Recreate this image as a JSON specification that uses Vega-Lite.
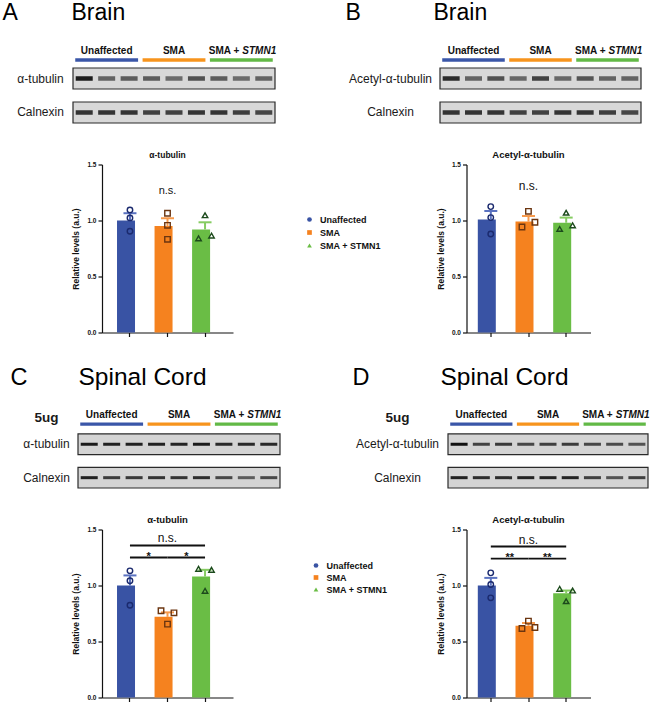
{
"$schema":"https://vega.github.io/schema/vega-lite/v6.json",
"padding":{"left":2,"top":1,"right":0,"bottom":0},
"bounds":"flush",
"columns":2,
"align":"each",
"spacing":{"row":41.5,"column":186.5},
"resolve":{"scale":{"color":"independent","shape":"independent","fill":"independent","stroke":"independent","x":"independent","y":"independent"}},
"config":{"view":{"stroke":null},"font":"Liberation Sans","axis":{"labelFont":"Liberation Sans","titleFont":"Liberation Sans"},"title":{"font":"Liberation Sans"},"legend":{"labelFont":"Liberation Sans"},"text":{"font":"Liberation Sans"}},
"datasets":{
"hdrLines":[{"row":"hdr","group":"Unaffected","lane":0.6,"lane2":3.4},{"row":"hdr","group":"SMA","lane":3.6,"lane2":6.4},{"row":"hdr","group":"SMA + STMN1","lane":6.6,"lane2":9.4}],
"hdrText":[{"row":"hdr","lane":2,"t":"Unaffected"},{"row":"hdr","lane":5,"t":"SMA"}],
"hdrText2":[{"row":"hdr","lane":8,"t":"SMA +"}],
"hdrText3":[{"row":"hdr","lane":8,"t":"STMN1"}],
"boxA":[{"row":"α-tubulin","lane":0.5,"lane2":9.5},{"row":"Calnexin","lane":0.5,"lane2":9.5}],
"boxB":[{"row":"Acetyl-α-tubulin","lane":0.5,"lane2":9.5},{"row":"Calnexin","lane":0.5,"lane2":9.5}],
"bandsA":[{"row":"α-tubulin","lane":1,"v":1.0},{"row":"α-tubulin","lane":2,"v":0.62},{"row":"α-tubulin","lane":3,"v":0.66},{"row":"α-tubulin","lane":4,"v":0.66},{"row":"α-tubulin","lane":5,"v":0.58},{"row":"α-tubulin","lane":6,"v":0.72},{"row":"α-tubulin","lane":7,"v":0.66},{"row":"α-tubulin","lane":8,"v":0.58},{"row":"α-tubulin","lane":9,"v":0.62},
{"row":"Calnexin","lane":1,"v":0.88},{"row":"Calnexin","lane":2,"v":0.88},{"row":"Calnexin","lane":3,"v":0.88},{"row":"Calnexin","lane":4,"v":0.8},{"row":"Calnexin","lane":5,"v":0.8},{"row":"Calnexin","lane":6,"v":0.88},{"row":"Calnexin","lane":7,"v":0.88},{"row":"Calnexin","lane":8,"v":0.82},{"row":"Calnexin","lane":9,"v":0.78}],
"bandsB":[{"row":"Acetyl-α-tubulin","lane":1,"v":0.92},{"row":"Acetyl-α-tubulin","lane":2,"v":0.62},{"row":"Acetyl-α-tubulin","lane":3,"v":0.72},{"row":"Acetyl-α-tubulin","lane":4,"v":0.6},{"row":"Acetyl-α-tubulin","lane":5,"v":0.8},{"row":"Acetyl-α-tubulin","lane":6,"v":0.6},{"row":"Acetyl-α-tubulin","lane":7,"v":0.7},{"row":"Acetyl-α-tubulin","lane":8,"v":0.62},{"row":"Acetyl-α-tubulin","lane":9,"v":0.62},
{"row":"Calnexin","lane":1,"v":0.88},{"row":"Calnexin","lane":2,"v":0.88},{"row":"Calnexin","lane":3,"v":0.88},{"row":"Calnexin","lane":4,"v":0.8},{"row":"Calnexin","lane":5,"v":0.8},{"row":"Calnexin","lane":6,"v":0.88},{"row":"Calnexin","lane":7,"v":0.88},{"row":"Calnexin","lane":8,"v":0.82},{"row":"Calnexin","lane":9,"v":0.78}],
"bandsC":[{"row":"α-tubulin","lane":1,"v":0.95},{"row":"α-tubulin","lane":2,"v":0.92},{"row":"α-tubulin","lane":3,"v":0.92},{"row":"α-tubulin","lane":4,"v":0.92},{"row":"α-tubulin","lane":5,"v":0.9},{"row":"α-tubulin","lane":6,"v":0.95},{"row":"α-tubulin","lane":7,"v":0.88},{"row":"α-tubulin","lane":8,"v":0.88},{"row":"α-tubulin","lane":9,"v":0.88},
{"row":"Calnexin","lane":1,"v":0.92},{"row":"Calnexin","lane":2,"v":0.78},{"row":"Calnexin","lane":3,"v":0.8},{"row":"Calnexin","lane":4,"v":0.82},{"row":"Calnexin","lane":5,"v":0.82},{"row":"Calnexin","lane":6,"v":0.85},{"row":"Calnexin","lane":7,"v":0.72},{"row":"Calnexin","lane":8,"v":0.62},{"row":"Calnexin","lane":9,"v":0.72}],
"bandsD":[{"row":"Acetyl-α-tubulin","lane":1,"v":1.0},{"row":"Acetyl-α-tubulin","lane":2,"v":0.75},{"row":"Acetyl-α-tubulin","lane":3,"v":0.8},{"row":"Acetyl-α-tubulin","lane":4,"v":0.72},{"row":"Acetyl-α-tubulin","lane":5,"v":0.76},{"row":"Acetyl-α-tubulin","lane":6,"v":0.78},{"row":"Acetyl-α-tubulin","lane":7,"v":0.72},{"row":"Acetyl-α-tubulin","lane":8,"v":0.7},{"row":"Acetyl-α-tubulin","lane":9,"v":0.66},
{"row":"Calnexin","lane":1,"v":0.92},{"row":"Calnexin","lane":2,"v":0.86},{"row":"Calnexin","lane":3,"v":0.86},{"row":"Calnexin","lane":4,"v":0.9},{"row":"Calnexin","lane":5,"v":0.9},{"row":"Calnexin","lane":6,"v":0.9},{"row":"Calnexin","lane":7,"v":0.76},{"row":"Calnexin","lane":8,"v":0.66},{"row":"Calnexin","lane":9,"v":0.76}],
"barsA":[{"group":"Unaffected","v":1.0,"hi":1.065},{"group":"SMA","v":0.95,"hi":1.02},{"group":"SMA + STMN1","v":0.92,"hi":0.984}],
"barsB":[{"group":"Unaffected","v":1.01,"hi":1.085},{"group":"SMA","v":0.99,"hi":1.04},{"group":"SMA + STMN1","v":0.98,"hi":1.026}],
"barsC":[{"group":"Unaffected","v":1.0,"hi":1.09},{"group":"SMA","v":0.72,"hi":0.76},{"group":"SMA + STMN1","v":1.08,"hi":1.14}],
"barsD":[{"group":"Unaffected","v":1.0,"hi":1.068},{"group":"SMA","v":0.64,"hi":0.665},{"group":"SMA + STMN1","v":0.93,"hi":0.955}],
"ptsA":[{"group":"Unaffected","pos":"C","v":1.094},{"group":"Unaffected","pos":"C","v":1.023},{"group":"Unaffected","pos":"C","v":0.904},{"group":"SMA","pos":"C","v":1.065},{"group":"SMA","pos":"C","v":0.957},{"group":"SMA","pos":"C","v":0.832},{"group":"SMA + STMN1","pos":"C","v":1.047},{"group":"SMA + STMN1","pos":"L","v":0.841},{"group":"SMA + STMN1","pos":"R","v":0.865}],
"ptsB":[{"group":"Unaffected","pos":"C","v":1.124},{"group":"Unaffected","pos":"C","v":1.026},{"group":"Unaffected","pos":"C","v":0.88},{"group":"SMA","pos":"C","v":1.082},{"group":"SMA","pos":"R","v":0.984},{"group":"SMA","pos":"L","v":0.942},{"group":"SMA + STMN1","pos":"C","v":1.07},{"group":"SMA + STMN1","pos":"R","v":0.957},{"group":"SMA + STMN1","pos":"L","v":0.925}],
"ptsC":[{"group":"Unaffected","pos":"C","v":1.131},{"group":"Unaffected","pos":"C","v":1.042},{"group":"Unaffected","pos":"C","v":0.824},{"group":"SMA","pos":"L","v":0.774},{"group":"SMA","pos":"R","v":0.756},{"group":"SMA","pos":"C","v":0.655},{"group":"SMA + STMN1","pos":"L","v":1.149},{"group":"SMA + STMN1","pos":"R","v":1.14},{"group":"SMA + STMN1","pos":"C","v":0.952}],
"ptsD":[{"group":"Unaffected","pos":"C","v":1.113},{"group":"Unaffected","pos":"C","v":1.009},{"group":"Unaffected","pos":"C","v":0.89},{"group":"SMA","pos":"C","v":0.682},{"group":"SMA","pos":"R","v":0.625},{"group":"SMA","pos":"L","v":0.616},{"group":"SMA + STMN1","pos":"L","v":0.97},{"group":"SMA + STMN1","pos":"R","v":0.955},{"group":"SMA + STMN1","pos":"C","v":0.86}],
"nsA":[{"group":"SMA","v":1.26,"t":"n.s."}],
"nsB":[{"group":"SMA","v":1.31,"t":"n.s."}],
"nsC":[{"group":"SMA","v":1.424,"t":"n.s."}],
"nsD":[{"group":"SMA","v":1.41,"t":"n.s."}],
"brC":[{"from":"Unaffected","to":"SMA + STMN1","v":1.357},{"from":"Unaffected","to":"SMA","v":1.25},{"from":"SMA","to":"SMA + STMN1","v":1.25}],
"brD":[{"from":"Unaffected","to":"SMA + STMN1","v":1.348},{"from":"Unaffected","to":"SMA","v":1.24},{"from":"SMA","to":"SMA + STMN1","v":1.24}],
"stC":[{"group":"Unaffected","v":1.25,"t":"*"},{"group":"SMA","v":1.25,"t":"*"}],
"stD":[{"group":"Unaffected","v":1.24,"t":"**"},{"group":"SMA","v":1.24,"t":"**"}]
},
"concat":[
{
 "width":173,"height":89,
 "encoding":{
  "x":{"field":"lane","type":"quantitative","scale":{"domain":[0.5,9.5],"range":[-29,173],"nice":false,"zero":false},
   "axis":{"orient":"top","labels":false,"ticks":false,"domain":false,"grid":false,"title":"Brain","titleX":-31,"titleY":-15,"titleAlign":"left","titleBaseline":"alphabetic","titleAngle":0,"titleFontSize":23,"titleFontWeight":"normal","titleColor":"#000"}},
  "y":{"field":"row","type":"nominal","scale":{"domain":["hdr","α-tubulin","Calnexin"],"paddingInner":0.382,"paddingOuter":0},
   "axis":{"title":"A","titleX":-100,"titleY":-15,"titleAlign":"left","titleBaseline":"alphabetic","titleAngle":0,"titleFontSize":23,"titleFontWeight":"normal","titleColor":"#000","ticks":false,"tickSize":0,"domain":false,"grid":false,"labelExpr":"datum.value === 'hdr' ? '' : datum.value","labelAlign":"center","labelPadding":62,"labelFontSize":12,"labelColor":"#1a1a1a","labelBaseline":"middle"}}
 },
 "layer":[
  {"data":{"name":"boxA"},"mark":{"type":"rect","fill":"#d8d8d8","stroke":"#2a2a2a","strokeWidth":1.2},"encoding":{"x2":{"field":"lane2"}}},
  {"data":{"name":"bandsA"},"mark":{"type":"tick","orient":"horizontal","size":17,"thickness":4.5,"color":"#1c1c1c"},"encoding":{"opacity":{"field":"v","type":"quantitative","scale":null}}},
  {"data":{"name":"hdrLines"},"mark":{"type":"rule","strokeWidth":3.3,"yOffset":15.5},"encoding":{"x2":{"field":"lane2"},"color":{"field":"group","type":"nominal","scale":{"domain":["Unaffected","SMA","SMA + STMN1"],"range":["#3a56a8","#f7941d","#62b946"]},"legend":null}}},
  {"data":{"name":"hdrText"},"mark":{"type":"text","fontSize":10,"fontWeight":"bold","dy":6,"color":"#111"},"encoding":{"text":{"field":"t"}}},
  {"data":{"name":"hdrText2"},"mark":{"type":"text","fontSize":10,"fontWeight":"bold","dy":6,"align":"right","dx":-2,"color":"#111"},"encoding":{"text":{"field":"t"}}},
  {"data":{"name":"hdrText3"},"mark":{"type":"text","fontSize":10,"fontWeight":"bold","fontStyle":"italic","dy":6,"align":"left","dx":1,"color":"#111"},"encoding":{"text":{"field":"t"}}}
 ]
},
{
 "width":174.5,"height":89,
 "encoding":{
  "x":{"field":"lane","type":"quantitative","scale":{"domain":[0.5,9.5],"range":[-26.5,174.5],"nice":false,"zero":false},
   "axis":{"orient":"top","labels":false,"ticks":false,"domain":false,"grid":false,"title":"Brain","titleX":-33.5,"titleY":-15,"titleAlign":"left","titleBaseline":"alphabetic","titleAngle":0,"titleFontSize":23,"titleFontWeight":"normal","titleColor":"#000"}},
  "y":{"field":"row","type":"nominal","scale":{"domain":["hdr","Acetyl-α-tubulin","Calnexin"],"paddingInner":0.382,"paddingOuter":0},
   "axis":{"title":"B","titleX":-121.5,"titleY":-15,"titleAlign":"left","titleBaseline":"alphabetic","titleAngle":0,"titleFontSize":23,"titleFontWeight":"normal","titleColor":"#000","ticks":false,"tickSize":0,"domain":false,"grid":false,"labelExpr":"datum.value === 'hdr' ? '' : datum.value","labelAlign":"center","labelPadding":76.5,"labelFontSize":12,"labelColor":"#1a1a1a","labelBaseline":"middle"}}
 },
 "layer":[
  {"data":{"name":"boxB"},"mark":{"type":"rect","fill":"#d8d8d8","stroke":"#2a2a2a","strokeWidth":1.2},"encoding":{"x2":{"field":"lane2"}}},
  {"data":{"name":"bandsB"},"mark":{"type":"tick","orient":"horizontal","size":17,"thickness":4.5,"color":"#1c1c1c"},"encoding":{"opacity":{"field":"v","type":"quantitative","scale":null}}},
  {"data":{"name":"hdrLines"},"mark":{"type":"rule","strokeWidth":3.3,"yOffset":15.5},"encoding":{"x2":{"field":"lane2"},"color":{"field":"group","type":"nominal","scale":{"domain":["Unaffected","SMA","SMA + STMN1"],"range":["#3a56a8","#f7941d","#62b946"]},"legend":null}}},
  {"data":{"name":"hdrText"},"mark":{"type":"text","fontSize":10,"fontWeight":"bold","dy":6,"color":"#111"},"encoding":{"text":{"field":"t"}}},
  {"data":{"name":"hdrText2"},"mark":{"type":"text","fontSize":10,"fontWeight":"bold","dy":6,"align":"right","dx":-2,"color":"#111"},"encoding":{"text":{"field":"t"}}},
  {"data":{"name":"hdrText3"},"mark":{"type":"text","fontSize":10,"fontWeight":"bold","fontStyle":"italic","dy":6,"align":"left","dx":1,"color":"#111"},"encoding":{"text":{"field":"t"}}}
 ]
},
{
 "width":131,"height":168,
 "title":{"text":"α-tubulin","fontSize":8.5,"fontWeight":"bold","offset":2,"color":"#111"},
 "encoding":{
  "x":{"field":"group","type":"nominal","scale":{"domain":["Unaffected","SMA","SMA + STMN1"],"paddingInner":0.31,"paddingOuter":0.4},"axis":{"labels":false,"title":null,"tickSize":4,"tickColor":"#111","tickWidth":1.2,"domainColor":"#111","domainWidth":1.2,"grid":false}},
  "y":{"field":"v","type":"quantitative","scale":{"domain":[0,1.5],"nice":false},"axis":{"values":[0,0.5,1,1.5],"format":".1f","title":"Relative levels (a.u.)","titleFontSize":8.5,"titleFontWeight":"bold","titleColor":"#111","titlePadding":6,"labelFontSize":6.5,"labelFontWeight":"bold","labelColor":"#111","labelPadding":2,"tickSize":4,"tickColor":"#111","tickWidth":1.2,"domainColor":"#111","domainWidth":1.2,"grid":false}}
 },
 "layer":[
  {"data":{"name":"barsA"},"mark":"bar","encoding":{"color":{"field":"group","type":"nominal","scale":{"domain":["Unaffected","SMA","SMA + STMN1"],"range":["#3953a4","#f5821f","#6abd45"]},"legend":{"orient":"none","legendX":203,"legendY":50.5,"title":null,"labelFontSize":9,"labelFontWeight":"bold","labelColor":"#111","symbolSize":22,"symbolStrokeWidth":0,"rowPadding":3,"labelOffset":6,"padding":0,"direction":"vertical"}}}},
  {"data":{"name":"barsA"},"mark":{"type":"bar","width":2},"encoding":{"y2":{"field":"hi"},"fill":{"field":"group","type":"nominal","scale":{"domain":["Unaffected","SMA","SMA + STMN1"],"range":["#5a72c0","#f79a4c","#86cc62"]},"legend":null}}},
  {"data":{"name":"barsA"},"mark":{"type":"tick","orient":"horizontal","size":13,"thickness":2,"opacity":1},"encoding":{"y":{"field":"hi","type":"quantitative","title":"Relative levels (a.u.)"},"fill":{"field":"group","type":"nominal","scale":{"domain":["Unaffected","SMA","SMA + STMN1"],"range":["#5a72c0","#f79a4c","#86cc62"]},"legend":null}}},
  {"data":{"name":"ptsA"},"mark":{"type":"point","filled":false,"size":30,"strokeWidth":1.4,"opacity":1},"encoding":{"xOffset":{"field":"pos","type":"nominal","scale":{"domain":["L","C","R"],"paddingOuter":2.6}},"shape":{"field":"group","type":"nominal","scale":{"domain":["Unaffected","SMA","SMA + STMN1"],"range":["circle","square","triangle-up"]},"legend":{"orient":"none","legendX":203,"legendY":50.5,"title":null,"labelFontSize":9,"labelFontWeight":"bold","labelColor":"#111","symbolSize":22,"symbolStrokeWidth":0,"rowPadding":3,"labelOffset":6,"padding":0,"direction":"vertical"}},"stroke":{"field":"group","type":"nominal","scale":{"domain":["Unaffected","SMA","SMA + STMN1"],"range":["#1b2a6e","#6b3510","#1c4a1c"]},"legend":null}}},
  {"data":{"name":"nsA"},"mark":{"type":"text","fontSize":11,"baseline":"middle","color":"#111"},"encoding":{"text":{"field":"t"}}}
 ]
},
{
 "width":124,"height":168,
 "title":{"text":"Acetyl-α-tubulin","fontSize":9.5,"fontWeight":"bold","offset":2,"color":"#111"},
 "encoding":{
  "x":{"field":"group","type":"nominal","scale":{"domain":["Unaffected","SMA","SMA + STMN1"],"paddingInner":0.31,"paddingOuter":0.3},"axis":{"labels":false,"title":null,"tickSize":4,"tickColor":"#111","tickWidth":1.2,"domainColor":"#111","domainWidth":1.2,"grid":false}},
  "y":{"field":"v","type":"quantitative","scale":{"domain":[0,1.5],"nice":false},"axis":{"values":[0,0.5,1,1.5],"format":".1f","title":"Relative levels (a.u.)","titleFontSize":8.5,"titleFontWeight":"bold","titleColor":"#111","titlePadding":6,"labelFontSize":6.5,"labelFontWeight":"bold","labelColor":"#111","labelPadding":2,"tickSize":4,"tickColor":"#111","tickWidth":1.2,"domainColor":"#111","domainWidth":1.2,"grid":false}}
 },
 "layer":[
  {"data":{"name":"barsB"},"mark":"bar","encoding":{"color":{"field":"group","type":"nominal","scale":{"domain":["Unaffected","SMA","SMA + STMN1"],"range":["#3953a4","#f5821f","#6abd45"]},"legend":null}}},
  {"data":{"name":"barsB"},"mark":{"type":"bar","width":2},"encoding":{"y2":{"field":"hi"},"fill":{"field":"group","type":"nominal","scale":{"domain":["Unaffected","SMA","SMA + STMN1"],"range":["#5a72c0","#f79a4c","#86cc62"]},"legend":null}}},
  {"data":{"name":"barsB"},"mark":{"type":"tick","orient":"horizontal","size":13,"thickness":2,"opacity":1},"encoding":{"y":{"field":"hi","type":"quantitative","title":"Relative levels (a.u.)"},"fill":{"field":"group","type":"nominal","scale":{"domain":["Unaffected","SMA","SMA + STMN1"],"range":["#5a72c0","#f79a4c","#86cc62"]},"legend":null}}},
  {"data":{"name":"ptsB"},"mark":{"type":"point","filled":false,"size":30,"strokeWidth":1.4,"opacity":1},"encoding":{"xOffset":{"field":"pos","type":"nominal","scale":{"domain":["L","C","R"],"paddingOuter":2.6}},"shape":{"field":"group","type":"nominal","scale":{"domain":["Unaffected","SMA","SMA + STMN1"],"range":["circle","square","triangle-up"]},"legend":null},"stroke":{"field":"group","type":"nominal","scale":{"domain":["Unaffected","SMA","SMA + STMN1"],"range":["#1b2a6e","#6b3510","#1c4a1c"]},"legend":null}}},
  {"data":{"name":"nsB"},"mark":{"type":"text","fontSize":12,"baseline":"middle","color":"#111"},"encoding":{"text":{"field":"t"}}}
 ]
},
{
 "width":178,"height":114,
 "encoding":{
  "x":{"field":"lane","type":"quantitative","scale":{"domain":[0.5,9.5],"range":[-24,178],"nice":false,"zero":false},
   "axis":{"orient":"top","labels":false,"ticks":false,"domain":false,"grid":false,"title":"Spinal Cord","titleX":-24,"titleY":10,"titleAlign":"left","titleBaseline":"alphabetic","titleAngle":0,"titleFontSize":24.5,"titleFontWeight":"normal","titleColor":"#000"}},
  "y":{"field":"row","type":"nominal","scale":{"domain":["hdr","α-tubulin","Calnexin"],"range":[26.5,114],"paddingInner":0.382,"paddingOuter":0},
   "axis":{"title":"C","titleX":-92,"titleY":10,"titleAlign":"left","titleBaseline":"alphabetic","titleAngle":0,"titleFontSize":23.5,"titleFontWeight":"normal","titleColor":"#000","ticks":false,"tickSize":0,"domain":false,"grid":false,"labelExpr":"datum.value === 'hdr' ? '5ug' : datum.value","labelAlign":"center","labelPadding":56,"labelFontSize":{"condition":{"test":"datum.value === 'hdr'","value":13.5},"value":12},"labelFontWeight":{"condition":{"test":"datum.value === 'hdr'","value":"bold"},"value":"normal"},"labelBaseline":{"condition":{"test":"datum.value === 'hdr'","value":"top"},"value":"middle"},"labelColor":"#1a1a1a"}}
 },
 "layer":[
  {"data":{"name":"boxA"},"mark":{"type":"rect","fill":"#d4d4d4","stroke":"#2a2a2a","strokeWidth":1.2},"encoding":{"x2":{"field":"lane2"}}},
  {"data":{"name":"bandsC"},"mark":{"type":"tick","orient":"horizontal","size":17,"thickness":3,"color":"#111"},"encoding":{"opacity":{"field":"v","type":"quantitative","scale":null}}},
  {"data":{"name":"hdrLines"},"mark":{"type":"rule","strokeWidth":3.3,"yOffset":13.2},"encoding":{"x2":{"field":"lane2"},"color":{"field":"group","type":"nominal","scale":{"domain":["Unaffected","SMA","SMA + STMN1"],"range":["#3a56a8","#f7941d","#62b946"]},"legend":null}}},
  {"data":{"name":"hdrText"},"mark":{"type":"text","fontSize":10,"fontWeight":"bold","dy":4.2,"color":"#111"},"encoding":{"text":{"field":"t"}}},
  {"data":{"name":"hdrText2"},"mark":{"type":"text","fontSize":10,"fontWeight":"bold","dy":4.2,"align":"right","dx":-2,"color":"#111"},"encoding":{"text":{"field":"t"}}},
  {"data":{"name":"hdrText3"},"mark":{"type":"text","fontSize":10,"fontWeight":"bold","fontStyle":"italic","dy":4.2,"align":"left","dx":1,"color":"#111"},"encoding":{"text":{"field":"t"}}}
 ]
},
{
 "width":181.5,"height":114,
 "encoding":{
  "x":{"field":"lane","type":"quantitative","scale":{"domain":[0.5,9.5],"range":[-18.5,181.5],"nice":false,"zero":false},
   "axis":{"orient":"top","labels":false,"ticks":false,"domain":false,"grid":false,"title":"Spinal Cord","titleX":-26.5,"titleY":10,"titleAlign":"left","titleBaseline":"alphabetic","titleAngle":0,"titleFontSize":24.5,"titleFontWeight":"normal","titleColor":"#000"}},
  "y":{"field":"row","type":"nominal","scale":{"domain":["hdr","Acetyl-α-tubulin","Calnexin"],"range":[26.5,114],"paddingInner":0.382,"paddingOuter":0},
   "axis":{"title":"D","titleX":-114.5,"titleY":10,"titleAlign":"left","titleBaseline":"alphabetic","titleAngle":0,"titleFontSize":23.5,"titleFontWeight":"normal","titleColor":"#000","ticks":false,"tickSize":0,"domain":false,"grid":false,"labelExpr":"datum.value === 'hdr' ? '5ug' : datum.value","labelAlign":"center","labelPadding":69.5,"labelFontSize":{"condition":{"test":"datum.value === 'hdr'","value":13.5},"value":12},"labelFontWeight":{"condition":{"test":"datum.value === 'hdr'","value":"bold"},"value":"normal"},"labelBaseline":{"condition":{"test":"datum.value === 'hdr'","value":"top"},"value":"middle"},"labelColor":"#1a1a1a"}}
 },
 "layer":[
  {"data":{"name":"boxB"},"mark":{"type":"rect","fill":"#d4d4d4","stroke":"#2a2a2a","strokeWidth":1.2},"encoding":{"x2":{"field":"lane2"}}},
  {"data":{"name":"bandsD"},"mark":{"type":"tick","orient":"horizontal","size":17,"thickness":3,"color":"#111"},"encoding":{"opacity":{"field":"v","type":"quantitative","scale":null}}},
  {"data":{"name":"hdrLines"},"mark":{"type":"rule","strokeWidth":3.3,"yOffset":13.2},"encoding":{"x2":{"field":"lane2"},"color":{"field":"group","type":"nominal","scale":{"domain":["Unaffected","SMA","SMA + STMN1"],"range":["#3a56a8","#f7941d","#62b946"]},"legend":null}}},
  {"data":{"name":"hdrText"},"mark":{"type":"text","fontSize":10,"fontWeight":"bold","dy":4.2,"color":"#111"},"encoding":{"text":{"field":"t"}}},
  {"data":{"name":"hdrText2"},"mark":{"type":"text","fontSize":10,"fontWeight":"bold","dy":4.2,"align":"right","dx":-2,"color":"#111"},"encoding":{"text":{"field":"t"}}},
  {"data":{"name":"hdrText3"},"mark":{"type":"text","fontSize":10,"fontWeight":"bold","fontStyle":"italic","dy":4.2,"align":"left","dx":1,"color":"#111"},"encoding":{"text":{"field":"t"}}}
 ]
},
{
 "width":131,"height":168,
 "title":{"text":"α-tubulin","fontSize":9.5,"fontWeight":"bold","offset":2,"color":"#111"},
 "encoding":{
  "x":{"field":"group","type":"nominal","scale":{"domain":["Unaffected","SMA","SMA + STMN1"],"paddingInner":0.31,"paddingOuter":0.4},"axis":{"labels":false,"title":null,"tickSize":4,"tickColor":"#111","tickWidth":1.2,"domainColor":"#111","domainWidth":1.2,"grid":false}},
  "y":{"field":"v","type":"quantitative","scale":{"domain":[0,1.5],"nice":false},"axis":{"values":[0,0.5,1,1.5],"format":".1f","title":"Relative levels (a.u.)","titleFontSize":8.5,"titleFontWeight":"bold","titleColor":"#111","titlePadding":6,"labelFontSize":6.5,"labelFontWeight":"bold","labelColor":"#111","labelPadding":2,"tickSize":4,"tickColor":"#111","tickWidth":1.2,"domainColor":"#111","domainWidth":1.2,"grid":false}}
 },
 "layer":[
  {"data":{"name":"barsC"},"mark":"bar","encoding":{"color":{"field":"group","type":"nominal","scale":{"domain":["Unaffected","SMA","SMA + STMN1"],"range":["#3953a4","#f5821f","#6abd45"]},"legend":{"orient":"none","legendX":209.5,"legendY":31.5,"title":null,"labelFontSize":9,"labelFontWeight":"bold","labelColor":"#111","symbolSize":22,"symbolStrokeWidth":0,"rowPadding":2,"labelOffset":6,"padding":0,"direction":"vertical"}}}},
  {"data":{"name":"barsC"},"mark":{"type":"bar","width":2},"encoding":{"y2":{"field":"hi"},"fill":{"field":"group","type":"nominal","scale":{"domain":["Unaffected","SMA","SMA + STMN1"],"range":["#5a72c0","#f79a4c","#86cc62"]},"legend":null}}},
  {"data":{"name":"barsC"},"mark":{"type":"tick","orient":"horizontal","size":13,"thickness":2,"opacity":1},"encoding":{"y":{"field":"hi","type":"quantitative","title":"Relative levels (a.u.)"},"fill":{"field":"group","type":"nominal","scale":{"domain":["Unaffected","SMA","SMA + STMN1"],"range":["#5a72c0","#f79a4c","#86cc62"]},"legend":null}}},
  {"data":{"name":"ptsC"},"mark":{"type":"point","filled":false,"size":30,"strokeWidth":1.4,"opacity":1},"encoding":{"xOffset":{"field":"pos","type":"nominal","scale":{"domain":["L","C","R"],"paddingOuter":2.6}},"shape":{"field":"group","type":"nominal","scale":{"domain":["Unaffected","SMA","SMA + STMN1"],"range":["circle","square","triangle-up"]},"legend":{"orient":"none","legendX":209.5,"legendY":31.5,"title":null,"labelFontSize":9,"labelFontWeight":"bold","labelColor":"#111","symbolSize":22,"symbolStrokeWidth":0,"rowPadding":2,"labelOffset":6,"padding":0,"direction":"vertical"}},"stroke":{"field":"group","type":"nominal","scale":{"domain":["Unaffected","SMA","SMA + STMN1"],"range":["#1b2a6e","#6b3510","#1c4a1c"]},"legend":null}}},
  {"data":{"name":"nsC"},"mark":{"type":"text","fontSize":12,"baseline":"middle","color":"#111"},"encoding":{"text":{"field":"t"}}},
  {"data":{"name":"brC"},"mark":{"type":"rule","strokeWidth":1.8,"color":"#111"},"encoding":{"x":{"field":"from","type":"nominal","title":null},"x2":{"field":"to"}}},
  {"data":{"name":"stC"},"mark":{"type":"text","fontSize":11,"fontWeight":"bold","baseline":"alphabetic","dy":2,"color":"#111"},"encoding":{"x":{"field":"group","type":"nominal","bandPosition":1.225,"title":null},"text":{"field":"t"}}}
 ]
},
{
 "width":124,"height":168,
 "title":{"text":"Acetyl-α-tubulin","fontSize":9.5,"fontWeight":"bold","offset":2,"color":"#111"},
 "encoding":{
  "x":{"field":"group","type":"nominal","scale":{"domain":["Unaffected","SMA","SMA + STMN1"],"paddingInner":0.31,"paddingOuter":0.3},"axis":{"labels":false,"title":null,"tickSize":4,"tickColor":"#111","tickWidth":1.2,"domainColor":"#111","domainWidth":1.2,"grid":false}},
  "y":{"field":"v","type":"quantitative","scale":{"domain":[0,1.5],"nice":false},"axis":{"values":[0,0.5,1,1.5],"format":".1f","title":"Relative levels (a.u.)","titleFontSize":8.5,"titleFontWeight":"bold","titleColor":"#111","titlePadding":6,"labelFontSize":6.5,"labelFontWeight":"bold","labelColor":"#111","labelPadding":2,"tickSize":4,"tickColor":"#111","tickWidth":1.2,"domainColor":"#111","domainWidth":1.2,"grid":false}}
 },
 "layer":[
  {"data":{"name":"barsD"},"mark":"bar","encoding":{"color":{"field":"group","type":"nominal","scale":{"domain":["Unaffected","SMA","SMA + STMN1"],"range":["#3953a4","#f5821f","#6abd45"]},"legend":null}}},
  {"data":{"name":"barsD"},"mark":{"type":"bar","width":2},"encoding":{"y2":{"field":"hi"},"fill":{"field":"group","type":"nominal","scale":{"domain":["Unaffected","SMA","SMA + STMN1"],"range":["#5a72c0","#f79a4c","#86cc62"]},"legend":null}}},
  {"data":{"name":"barsD"},"mark":{"type":"tick","orient":"horizontal","size":13,"thickness":2,"opacity":1},"encoding":{"y":{"field":"hi","type":"quantitative","title":"Relative levels (a.u.)"},"fill":{"field":"group","type":"nominal","scale":{"domain":["Unaffected","SMA","SMA + STMN1"],"range":["#5a72c0","#f79a4c","#86cc62"]},"legend":null}}},
  {"data":{"name":"ptsD"},"mark":{"type":"point","filled":false,"size":30,"strokeWidth":1.4,"opacity":1},"encoding":{"xOffset":{"field":"pos","type":"nominal","scale":{"domain":["L","C","R"],"paddingOuter":2.6}},"shape":{"field":"group","type":"nominal","scale":{"domain":["Unaffected","SMA","SMA + STMN1"],"range":["circle","square","triangle-up"]},"legend":null},"stroke":{"field":"group","type":"nominal","scale":{"domain":["Unaffected","SMA","SMA + STMN1"],"range":["#1b2a6e","#6b3510","#1c4a1c"]},"legend":null}}},
  {"data":{"name":"nsD"},"mark":{"type":"text","fontSize":12,"baseline":"middle","color":"#111"},"encoding":{"text":{"field":"t"}}},
  {"data":{"name":"brD"},"mark":{"type":"rule","strokeWidth":1.8,"color":"#111"},"encoding":{"x":{"field":"from","type":"nominal","title":null},"x2":{"field":"to"}}},
  {"data":{"name":"stD"},"mark":{"type":"text","fontSize":11,"fontWeight":"bold","baseline":"alphabetic","dy":2,"color":"#111"},"encoding":{"x":{"field":"group","type":"nominal","bandPosition":1.225,"title":null},"text":{"field":"t"}}}
 ]
}
]
}
